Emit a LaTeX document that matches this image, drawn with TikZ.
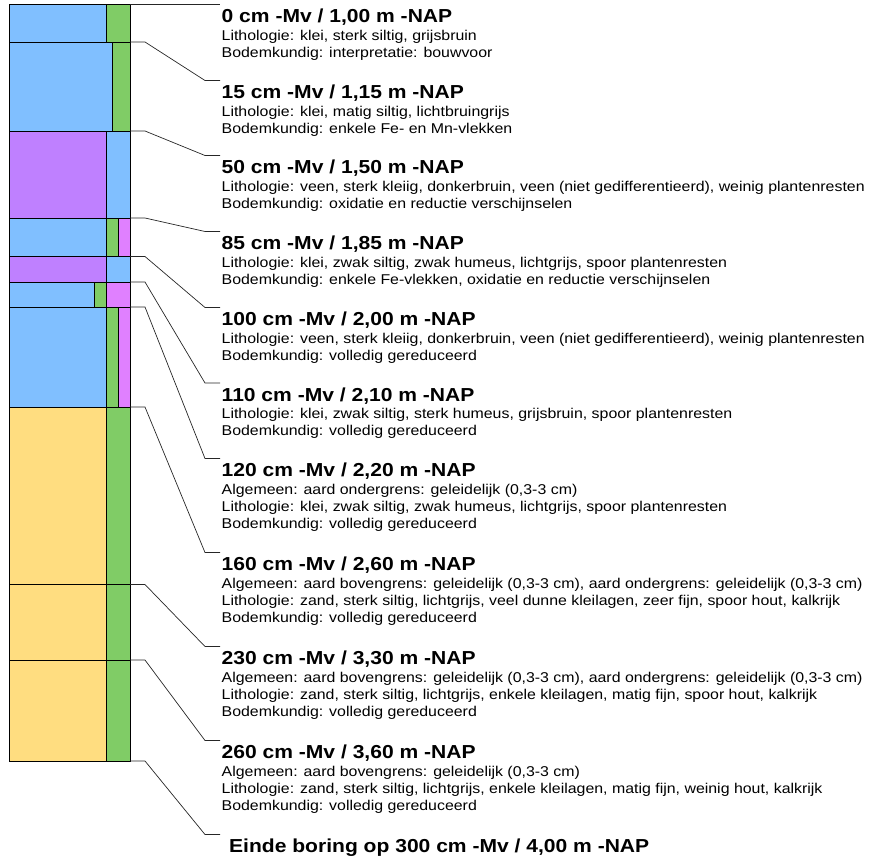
\documentclass[tikz,border=0pt]{standalone}
\usepackage{fontspec}
\usepackage{tikz}
\setmainfont{Liberation Sans}[FakeStretch=1.12]

\definecolor{klei}{RGB}{128,191,255}
\definecolor{veen}{RGB}{191,128,255}
\definecolor{zand}{RGB}{255,221,128}
\definecolor{gereduceerd}{RGB}{128,204,102}
\definecolor{humeus}{RGB}{224,128,255}

\newcommand{\laagkop}[1]{{\fontsize{18.8}{17.2}\selectfont\bfseries #1}}

\begin{document}
\begin{tikzpicture}[
        x=1pt, y=-1pt,
        layer_box/.style={draw=black, line width=0.8pt},
        leader/.style={draw=black!85, line width=0.7pt},
        label_text/.style={anchor=base west, inner sep=0pt, align=left,
            font=\fontsize{14.2}{17.2}\selectfont}
    ]
    \useasboundingbox (0,0) rectangle (870,859);

    % boorkolom
    \filldraw[layer_box, fill=klei] (9,4.5) rectangle (106,42);
    \filldraw[layer_box, fill=gereduceerd] (106,4.5) rectangle (130,42);
    \filldraw[layer_box, fill=klei] (9,42) rectangle (112,131);
    \filldraw[layer_box, fill=gereduceerd] (112,42) rectangle (130,131);
    \filldraw[layer_box, fill=veen] (9,131) rectangle (106,218);
    \filldraw[layer_box, fill=klei] (106,131) rectangle (130,218);
    \filldraw[layer_box, fill=klei] (9,218) rectangle (106,256.5);
    \filldraw[layer_box, fill=gereduceerd] (106,218) rectangle (118,256.5);
    \filldraw[layer_box, fill=humeus] (118,218) rectangle (130,256.5);
    \filldraw[layer_box, fill=veen] (9,256.5) rectangle (106,282);
    \filldraw[layer_box, fill=klei] (106,256.5) rectangle (130,282);
    \filldraw[layer_box, fill=klei] (9,282) rectangle (94,307);
    \filldraw[layer_box, fill=gereduceerd] (94,282) rectangle (106,307);
    \filldraw[layer_box, fill=humeus] (106,282) rectangle (130,307);
    \filldraw[layer_box, fill=klei] (9,307) rectangle (106,407);
    \filldraw[layer_box, fill=gereduceerd] (106,307) rectangle (118,407);
    \filldraw[layer_box, fill=humeus] (118,307) rectangle (130,407);
    \filldraw[layer_box, fill=zand] (9,407) rectangle (106,584.5);
    \filldraw[layer_box, fill=gereduceerd] (106,407) rectangle (130,584.5);
    \filldraw[layer_box, fill=zand] (9,584.5) rectangle (106,660);
    \filldraw[layer_box, fill=gereduceerd] (106,584.5) rectangle (130,660);
    \filldraw[layer_box, fill=zand] (9,660) rectangle (106,761);
    \filldraw[layer_box, fill=gereduceerd] (106,660) rectangle (130,761);

    % laaggrenzen
    \coordinate (g0) at (130,4.5);
    \coordinate (g15) at (130,42);
    \coordinate (g50) at (130,131);
    \coordinate (g85) at (130,218);
    \coordinate (g100) at (130,256.5);
    \coordinate (g110) at (130,282);
    \coordinate (g120) at (130,307);
    \coordinate (g160) at (130,407);
    \coordinate (g230) at (130,584.5);
    \coordinate (g260) at (130,660);
    \coordinate (g300) at (130,761);

    % beschrijvingen
    \coordinate (t0) at (220,4.5);
    \node[label_text] (l0) at ([xshift=1.5pt, yshift=-18.4pt]t0) {\begin{tabular}[t]{@{}l@{}}
        \laagkop{0 cm -Mv / 1,00 m -NAP}\\
        Lithologie: klei, sterk siltig, grijsbruin\\
        Bodemkundig: interpretatie: bouwvoor
    \end{tabular}};
    \coordinate (t15) at (220,80.5);
    \node[label_text] (l15) at ([xshift=1.5pt, yshift=-18.4pt]t15) {\begin{tabular}[t]{@{}l@{}}
        \laagkop{15 cm -Mv / 1,15 m -NAP}\\
        Lithologie: klei, matig siltig, lichtbruingrijs\\
        Bodemkundig: enkele Fe- en Mn-vlekken
    \end{tabular}};
    \coordinate (t50) at (220,155.5);
    \node[label_text] (l50) at ([xshift=1.5pt, yshift=-18.4pt]t50) {\begin{tabular}[t]{@{}l@{}}
        \laagkop{50 cm -Mv / 1,50 m -NAP}\\
        Lithologie: veen, sterk kleiig, donkerbruin, veen (niet gedifferentieerd), weinig plantenresten\\
        Bodemkundig: oxidatie en reductie verschijnselen
    \end{tabular}};
    \coordinate (t85) at (220,231.5);
    \node[label_text] (l85) at ([xshift=1.5pt, yshift=-18.4pt]t85) {\begin{tabular}[t]{@{}l@{}}
        \laagkop{85 cm -Mv / 1,85 m -NAP}\\
        Lithologie: klei, zwak siltig, zwak humeus, lichtgrijs, spoor plantenresten\\
        Bodemkundig: enkele Fe-vlekken, oxidatie en reductie verschijnselen
    \end{tabular}};
    \coordinate (t100) at (220,307.5);
    \node[label_text] (l100) at ([xshift=1.5pt, yshift=-18.4pt]t100) {\begin{tabular}[t]{@{}l@{}}
        \laagkop{100 cm -Mv / 2,00 m -NAP}\\
        Lithologie: veen, sterk kleiig, donkerbruin, veen (niet gedifferentieerd), weinig plantenresten\\
        Bodemkundig: volledig gereduceerd
    \end{tabular}};
    \coordinate (t110) at (220,383);
    \node[label_text] (l110) at ([xshift=1.5pt, yshift=-18.4pt]t110) {\begin{tabular}[t]{@{}l@{}}
        \laagkop{110 cm -Mv / 2,10 m -NAP}\\
        Lithologie: klei, zwak siltig, sterk humeus, grijsbruin, spoor plantenresten\\
        Bodemkundig: volledig gereduceerd
    \end{tabular}};
    \coordinate (t120) at (220,458.5);
    \node[label_text] (l120) at ([xshift=1.5pt, yshift=-18.4pt]t120) {\begin{tabular}[t]{@{}l@{}}
        \laagkop{120 cm -Mv / 2,20 m -NAP}\\
        Algemeen: aard ondergrens: geleidelijk (0,3-3 cm)\\
        Lithologie: klei, zwak siltig, zwak humeus, lichtgrijs, spoor plantenresten\\
        Bodemkundig: volledig gereduceerd
    \end{tabular}};
    \coordinate (t160) at (220,552.5);
    \node[label_text] (l160) at ([xshift=1.5pt, yshift=-18.4pt]t160) {\begin{tabular}[t]{@{}l@{}}
        \laagkop{160 cm -Mv / 2,60 m -NAP}\\
        Algemeen: aard bovengrens: geleidelijk (0,3-3 cm), aard ondergrens: geleidelijk (0,3-3 cm)\\
        Lithologie: zand, sterk siltig, lichtgrijs, veel dunne kleilagen, zeer fijn, spoor hout, kalkrijk\\
        Bodemkundig: volledig gereduceerd
    \end{tabular}};
    \coordinate (t230) at (220,646.5);
    \node[label_text] (l230) at ([xshift=1.5pt, yshift=-18.4pt]t230) {\begin{tabular}[t]{@{}l@{}}
        \laagkop{230 cm -Mv / 3,30 m -NAP}\\
        Algemeen: aard bovengrens: geleidelijk (0,3-3 cm), aard ondergrens: geleidelijk (0,3-3 cm)\\
        Lithologie: zand, sterk siltig, lichtgrijs, enkele kleilagen, matig fijn, spoor hout, kalkrijk\\
        Bodemkundig: volledig gereduceerd
    \end{tabular}};
    \coordinate (t260) at (220,740.5);
    \node[label_text] (l260) at ([xshift=1.5pt, yshift=-18.4pt]t260) {\begin{tabular}[t]{@{}l@{}}
        \laagkop{260 cm -Mv / 3,60 m -NAP}\\
        Algemeen: aard bovengrens: geleidelijk (0,3-3 cm)\\
        Lithologie: zand, sterk siltig, lichtgrijs, enkele kleilagen, matig fijn, weinig hout, kalkrijk\\
        Bodemkundig: volledig gereduceerd
    \end{tabular}};
    \coordinate (t300) at (220,834.5);
    \node[label_text] (l300) at ([xshift=9pt, yshift=-18.4pt]t300) {\laagkop{Einde boring op 300 cm -Mv / 4,00 m -NAP}};

    % verbindingslijnen
    \draw[leader] (g0) -- (t0);
    \draw[leader] (g15) -- ++(15,0) -- ([xshift=-15pt]t15) -- (t15);
    \draw[leader] (g50) -- ++(15,0) -- ([xshift=-15pt]t50) -- (t50);
    \draw[leader] (g85) -- ++(15,0) -- ([xshift=-15pt]t85) -- (t85);
    \draw[leader] (g100) -- ++(15,0) -- ([xshift=-15pt]t100) -- (t100);
    \draw[leader] (g110) -- ++(15,0) -- ([xshift=-15pt]t110) -- (t110);
    \draw[leader] (g120) -- ++(15,0) -- ([xshift=-15pt]t120) -- (t120);
    \draw[leader] (g160) -- ++(15,0) -- ([xshift=-15pt]t160) -- (t160);
    \draw[leader] (g230) -- ++(15,0) -- ([xshift=-15pt]t230) -- (t230);
    \draw[leader] (g260) -- ++(15,0) -- ([xshift=-15pt]t260) -- (t260);
    \draw[leader] (g300) -- ++(15,0) -- ([xshift=-15pt]t300) -- (t300);
\end{tikzpicture}
\end{document}
